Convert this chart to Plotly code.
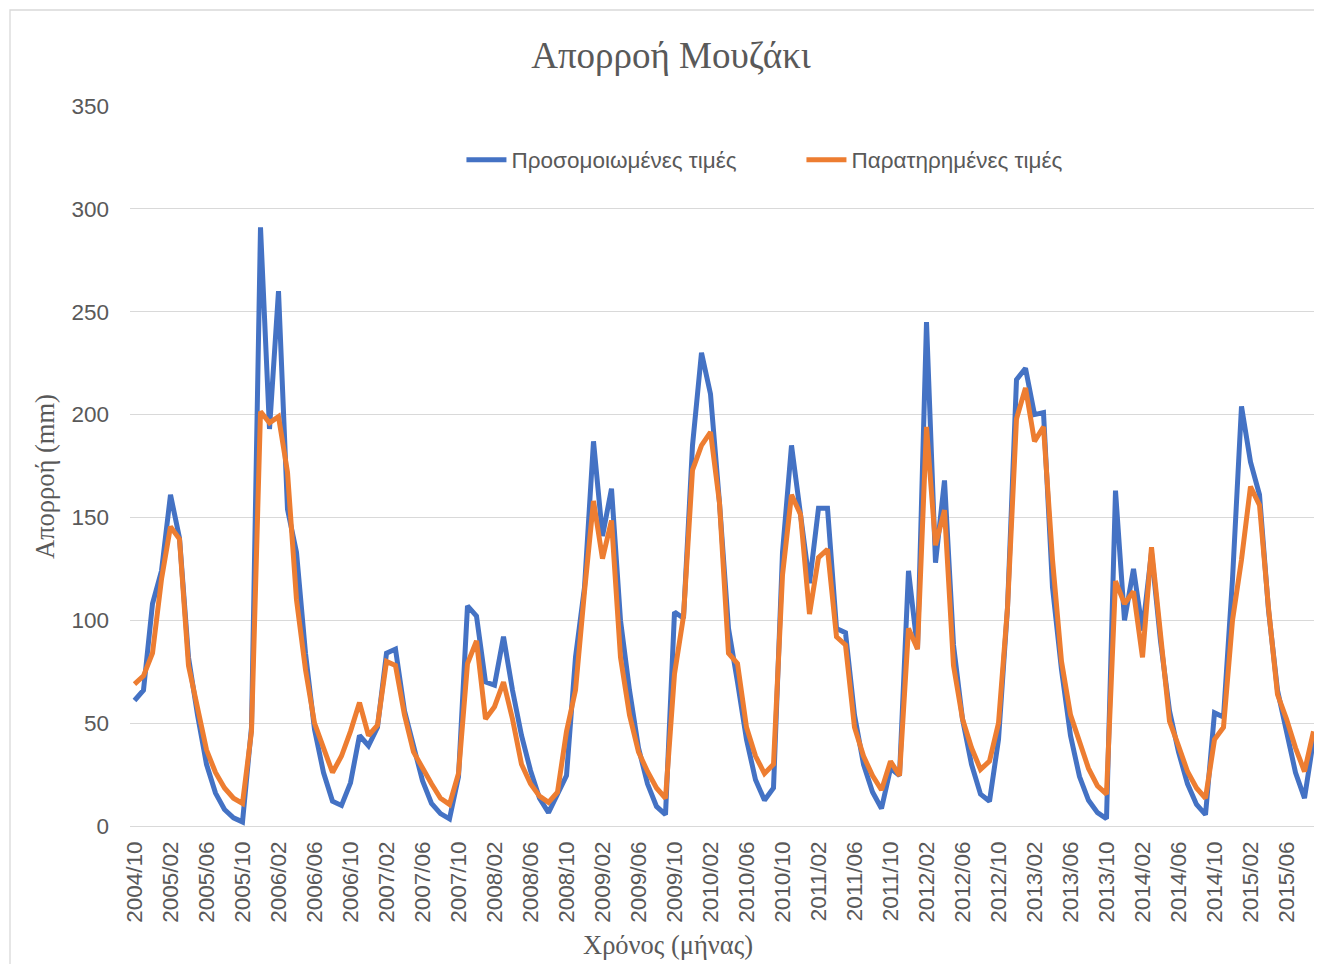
import plotly.graph_objects as go

# Months 2004/10 .. 2015/09
months = []
y, m = 2004, 10
for _ in range(132):
    months.append(f"{y}/{m:02d}")
    m += 1
    if m > 12:
        m = 1
        y += 1

tick_labels = ["2004/10", "2005/02", "2005/06", "2005/10", "2006/02", "2006/06", "2006/10",
               "2007/02", "2007/06", "2007/10", "2008/02", "2008/06", "2008/10", "2009/02",
               "2009/06", "2009/10", "2010/02", "2010/06", "2010/10", "2011/02", "2011/06",
               "2011/10", "2012/02", "2012/06", "2012/10", "2013/02", "2013/06", "2013/10",
               "2014/02", "2014/06", "2014/10", "2015/02", "2015/06"]

simulated = [61, 66, 108, 124, 161, 140, 82, 54, 30, 16, 8, 4, 2, 48, 291, 193, 260, 154, 133, 84,
             47, 26, 12, 10, 21, 44, 39, 48, 84, 86, 56, 38, 22, 11, 6, 3.5, 24, 107, 102, 70,
             68.5, 92, 66, 44, 27, 13.5, 6.5, 15.5, 24.5, 82, 116, 187, 141, 164, 100, 66, 38, 20.5, 9.5, 5.5,
             104, 101, 185, 230, 210, 157, 96, 70, 42, 22.5, 12.5, 18.5, 133, 185, 151, 118, 154.5, 154.5, 96, 94,
             54, 30, 16.5, 8.5, 28, 24.5, 124, 86, 245, 128, 168, 88, 52, 30, 15.5, 12, 42, 106, 217, 222.5,
             200, 201, 116, 76, 44, 24, 12.5, 6.5, 3.5, 163, 100, 125, 95, 133, 90, 56, 36, 20.5, 10.5, 5.5,
             55, 53, 120, 204, 177, 161, 105, 66, 46, 26, 13.5, 42]

observed = [69, 73, 84, 120, 145.5, 139.5, 78, 58, 37, 26, 18.5, 13.5, 11, 46, 201.5, 196, 199, 172, 110, 76,
            50, 38, 26, 34, 46, 60, 44, 49, 80, 78, 54, 36, 28, 20.5, 13.5, 10.5, 25.5, 79, 90, 52,
            58, 70, 52, 30, 20.5, 14.5, 11.5, 16.5, 46, 66, 114, 158, 130, 148.5, 82, 54, 36, 26.5, 18.5, 13.5,
            74, 102, 173, 185, 191.5, 157, 84, 79, 48, 34, 25.5, 30, 122, 161, 151.5, 103, 130.5, 134.5, 92, 88,
            48, 34, 24.5, 17.5, 31.5, 24.5, 96, 86, 194, 136.5, 153.5, 78, 52, 38, 27.5, 31.5, 50, 106, 198, 213,
            187, 194, 129.5, 80, 54, 40, 28, 19.5, 15.5, 119, 108, 114, 82, 135.5, 94, 51, 39, 26.5, 18.5, 13.5,
            42, 48, 100, 129.5, 165, 156, 106, 64, 52, 38, 26.5, 46]

TXT = "#595959"
GRID = "#d9d9d9"
SANS = "Liberation Sans"
SERIF = "Liberation Serif"

fig = go.Figure()
fig.add_trace(go.Scatter(x=months, y=simulated, mode="lines", name="Προσομοιωμένες τιμές",
                         line=dict(color="#4472C4", width=5, shape="linear")))
fig.add_trace(go.Scatter(x=months, y=observed, mode="lines", name="Παρατηρημένες τιμές",
                         line=dict(color="#ED7D31", width=5, shape="linear")))

W, H = 1314, 956  # page body has an 8px margin

fig.update_layout(
    width=W, height=H,
    margin=dict(l=122, r=4, t=98, b=138),
    paper_bgcolor="white", plot_bgcolor="white",
    title=dict(text="Απορροή Μουζάκι", x=663 / W, xref="container", xanchor="center",
               y=1 - 47 / H, yref="container", yanchor="middle",
               font=dict(family=SERIF, size=37, color=TXT)),
    showlegend=True,
    legend=dict(orientation="h", x=0.279, xanchor="left", y=0.925, yanchor="middle",
                font=dict(family=SANS, size=22.5, color=TXT),
                bgcolor="rgba(0,0,0,0)", itemwidth=40, entrywidth=285, entrywidthmode="pixels"),
    xaxis=dict(type="category", categoryorder="array", categoryarray=months,
               range=[-0.5, 131.5], tickvals=tick_labels, ticktext=tick_labels,
               tickangle=-90, showgrid=False, zeroline=False,
               showline=False, ticks="", ticklabelstandoff=10,
               tickfont=dict(family=SANS, size=22.5, color=TXT)),
    yaxis=dict(range=[0, 350], dtick=50, showgrid=True, gridcolor=GRID, gridwidth=1.3,
               zeroline=True, zerolinecolor=GRID, zerolinewidth=1.3, showline=False, ticks="",
               ticklabelstandoff=20,
               tickfont=dict(family=SANS, size=22.5, color=TXT)),
)

# axis titles
fig.add_annotation(text="Χρόνος (μήνας)", xref="paper", yref="paper",
                   x=(660 - 122) / 1188, y=(818 - 937) / 720, xanchor="center", yanchor="middle",
                   showarrow=False, font=dict(family=SERIF, size=26.5, color=TXT))
fig.add_annotation(text="Απορροή (mm)", xref="paper", yref="paper", textangle=-90,
                   x=(37 - 122) / 1188, y=(818 - 469) / 720, xanchor="center", yanchor="middle",
                   showarrow=False, font=dict(family=SERIF, size=26.5, color=TXT))

# chart-area border (left and top edges visible)
fig.add_shape(type="rect", xref="paper", yref="paper",
              x0=(2 - 122) / 1188, x1=(1340 - 122) / 1188,
              y0=-(990 - 818) / 720, y1=1 + (98 - 2) / 720,
              line=dict(color=GRID, width=1.3), fillcolor="rgba(0,0,0,0)", layer="below")

fig.write_html("out.html")
